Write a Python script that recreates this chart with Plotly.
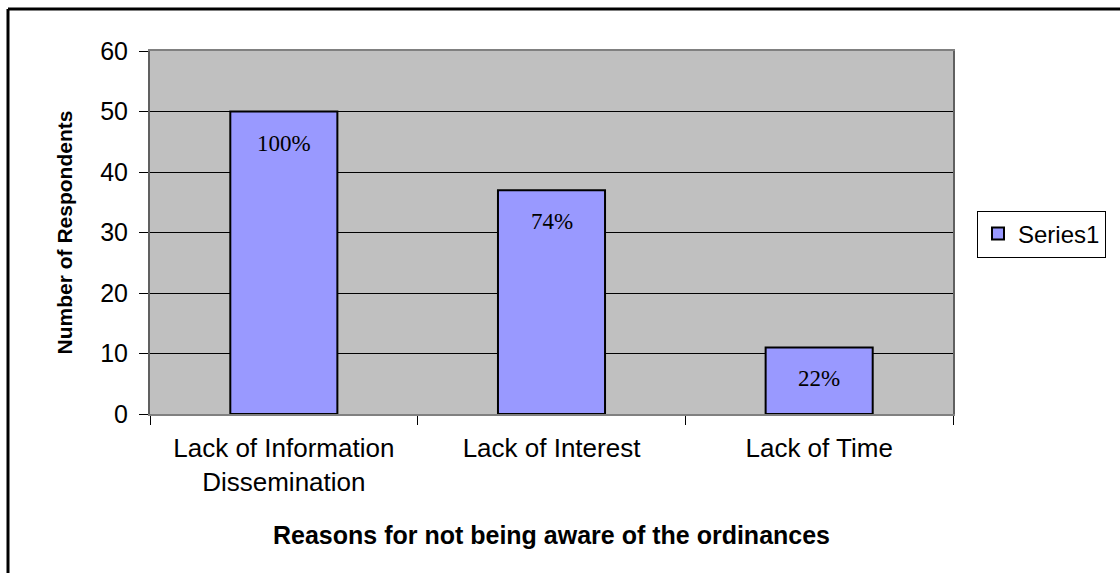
import plotly.graph_objects as go

categories = ["Lack of Information<br>Dissemination", "Lack of Interest", "Lack of Time"]
values = [50, 37, 11]
pct_labels = ["100%", "74%", "22%"]
y_ticks = [0, 10, 20, 30, 40, 50, 60]

L, R, T, B = 150, 167, 51, 159
PW, PH = 1120 - L - R, 573 - T - B

fig = go.Figure()
fig.add_trace(go.Bar(
    x=categories, y=values, name="Series1",
    marker=dict(color="#9999FF", line=dict(color="black", width=2)),
    width=0.4,
))
for c, v, t in zip(categories, values, pct_labels):
    fig.add_annotation(x=c, y=v, text=t, showarrow=False, yanchor="top", yshift=-17,
                       font=dict(family="Liberation Serif", size=23, color="black"))

fig.update_layout(
    width=1120, height=573,
    margin=dict(l=L, r=R, t=T, b=B, autoexpand=False),
    paper_bgcolor="white", plot_bgcolor="#C0C0C0",
    font=dict(family="Liberation Sans", color="black"),
    showlegend=True,
    legend=dict(x=(977 - L) / PW, y=(414 - 234) / PH, xanchor="left", yanchor="middle",
                bordercolor="black", borderwidth=1, bgcolor="white",
                font=dict(size=24, family="Liberation Sans")),
)
fig.update_yaxes(
    range=[0, 60], tickvals=y_ticks, ticks="outside", ticklen=9, tickcolor="black",
    tickfont=dict(size=25), ticklabelstandoff=6, showgrid=True, gridcolor="black", gridwidth=1,
    showline=True, linecolor="#606060", linewidth=2, mirror=True, zeroline=False,
    title=dict(text="<b>Number of Respondents</b>", font=dict(size=21), standoff=22),
)
fig.update_xaxes(
    ticks="outside", tickson="boundaries", ticklen=9, tickcolor="black",
    tickfont=dict(size=26), ticklabelstandoff=10, showline=True, linecolor="#808080", linewidth=2, mirror=True,
    title=dict(text="<b>Reasons for not being aware of the ordinances</b>", font=dict(size=25), standoff=30),
)
# outer chart border (top and left edges only)
fig.add_shape(type="line", xref="paper", yref="paper",
              x0=(8 - L) / PW, x1=(1120 - L) / PW, y0=1 + (T - 9) / PH, y1=1 + (T - 9) / PH,
              line=dict(color="black", width=3))
fig.add_shape(type="line", xref="paper", yref="paper",
              x0=(8 - L) / PW, x1=(8 - L) / PW, y0=1 + (T - 9) / PH, y1=-(B + 2) / PH,
              line=dict(color="black", width=3))
fig.write_html("out.html")
